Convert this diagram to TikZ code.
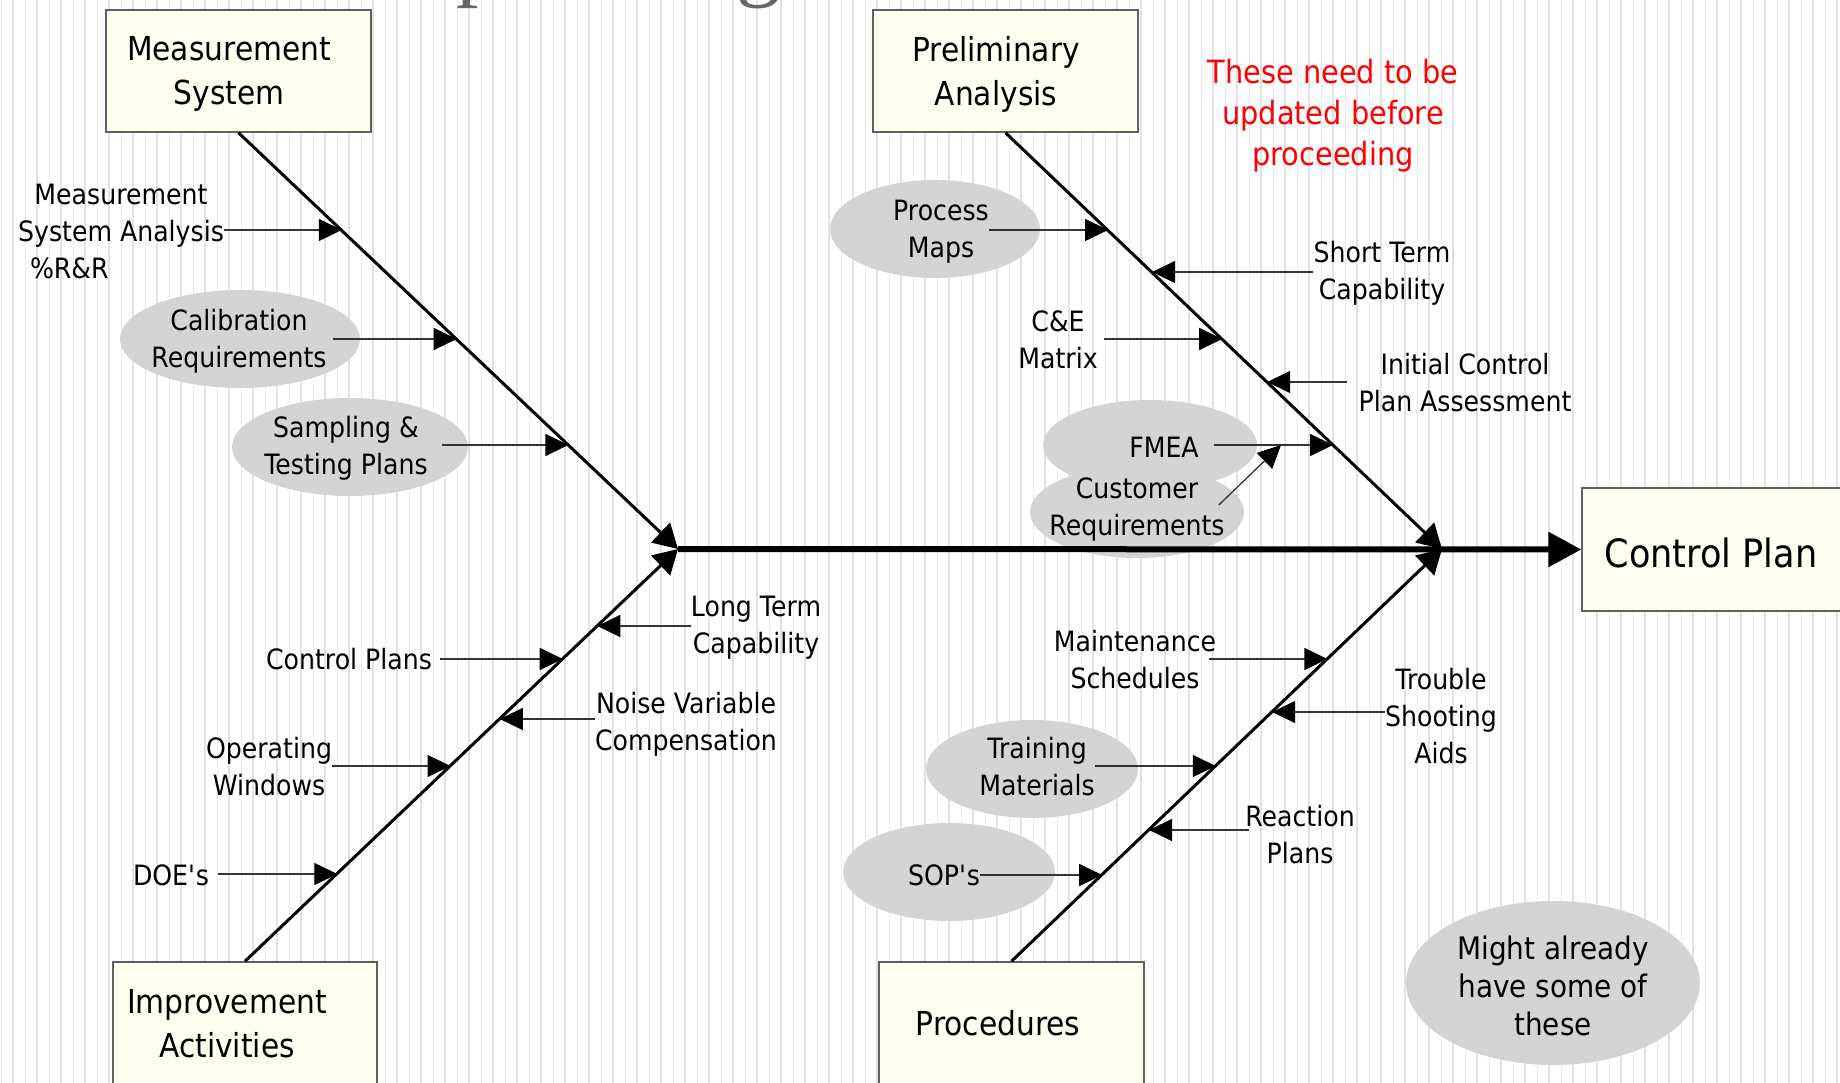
\documentclass[tikz,border=0pt]{standalone}
\usepackage{fontspec}
\setmainfont{DejaVu Sans}[FakeStretch=0.9]
\newfontfamily\titlefont{Liberation Serif}
\usetikzlibrary{arrows.meta,shapes.geometric,calc}
\definecolor{boxfill}{HTML}{FFFFF0}
\definecolor{boxline}{HTML}{606060}
\definecolor{ovalfill}{HTML}{D4D4D4}
\definecolor{stripeA}{HTML}{E2E2E2}
\definecolor{stripeB}{HTML}{ECECEC}
\definecolor{titlegray}{HTML}{666666}
\definecolor{connline}{HTML}{333333}
\begin{document}
\begin{tikzpicture}[x=1pt,y=-1pt,
  box/.style={draw=boxline, line width=1.5pt, fill=boxfill, rectangle, inner sep=0pt},
  boxtext/.style={font=\fontsize{33}{44}\selectfont, align=center, inner sep=0pt},
  lbl/.style={font=\fontsize{28}{37}\selectfont, align=center, inner sep=0pt},
  oval/.style={ellipse, fill=ovalfill, draw=none, inner sep=0pt},
  bone/.style={line width=3pt, -{Triangle[length=24pt,width=27pt]}},
  spine/.style={line width=6pt, -{Triangle[length=33pt,width=34pt]}},
  conn/.style={line width=1.3pt, draw=connline, -{Triangle[length=23pt,width=22pt,color=black]}},
  titletext/.style={font=\titlefont\fontsize{90}{90}\selectfont, text=titlegray, anchor=base west, inner sep=0pt}
]
\useasboundingbox (0,0) rectangle (1840,1083);
\begin{scope}
\clip (0,0) rectangle (1840,1083);
\fill[white] (0,0) rectangle (1840,1083);
\foreach \i in {0,...,76} {
  \draw[stripeB, line width=1pt] (\i*24+1,0) -- (\i*24+1,1083);
  \draw[stripeA, line width=2pt] (\i*24+13,0) -- (\i*24+13,1083);
}
% title fragments
\node[titletext] (tp) at (456,-10) {p};
\node[titletext] (tg) at (736,-10) {g};

% junctions and bone points
\coordinate (J1) at (678,549);
\coordinate (J2) at (1442,549);
\coordinate (m1) at (341.8,230);
\coordinate (m2) at (456.7,339);
\coordinate (m3) at (568.4,445);
\coordinate (l1) at (597.3,626);
\coordinate (l2) at (562.7,659);
\coordinate (l3) at (499.8,719);
\coordinate (l4) at (450.5,766);
\coordinate (l5) at (337.3,874);
\coordinate (p1) at (1108.1,230);
\coordinate (p2) at (1152.1,272);
\coordinate (p3) at (1222.2,339);
\coordinate (p4) at (1267.2,382);
\coordinate (p5) at (1333.1,445);
\coordinate (fm) at (1281,445);
\coordinate (r1) at (1327.4,659);
\coordinate (r2) at (1272.1,712);
\coordinate (r3) at (1215.8,766);
\coordinate (r4) at (1149.1,830);
\coordinate (r5) at (1102.2,875);

% ovals
\node[oval, minimum width=240pt, minimum height=98pt] (calibE) at (240,339) {};
\node[oval, minimum width=236pt, minimum height=98pt] (sampE) at (350,447) {};
\node[oval, minimum width=210pt, minimum height=98pt] (pmE) at (935,229) {};
\node[oval, minimum width=214pt, minimum height=90pt] (fmeaE) at (1150,445) {};
\node[oval, minimum width=214pt, minimum height=92pt] (custE) at (1137,512) {};
\node[oval, minimum width=212pt, minimum height=98pt] (trE) at (1032,769) {};
\node[oval, minimum width=212pt, minimum height=98pt] (sopE) at (949,872) {};
\node[oval, minimum width=294pt, minimum height=164pt] (mightE) at (1553,983) {};

% boxes
\node[box, minimum width=265pt, minimum height=122pt] (ms) at (238.5,71) {};
\node[box, minimum width=265pt, minimum height=122pt] (pa) at (1005.5,71) {};
\node[box, minimum width=264pt, minimum height=138pt] (ia) at (245,1031) {};
\node[box, minimum width=265pt, minimum height=138pt] (pr) at (1011.5,1031) {};
\node[box, minimum width=288pt, minimum height=123pt] (cp) at (1726,549.5) {};

% bones and spine
\draw[bone] (ms.south) -- (J1);
\draw[bone] (ia.north) -- (J1);
\draw[bone] (pa.south) -- (J2);
\draw[bone] (pr.north) -- (J2);
\draw[spine] (J1) -- (cp.west);

% texts
\node[boxtext] (mst) at (229,74) {Measurement\\System};
\node[boxtext] (pat) at (996,74) {Preliminary\\Analysis};
\node[boxtext] (iat) at (227,1024) {Improvement\\Activities};
\node[boxtext] (prt) at (998,1023) {Procedures};
\node[inner sep=0pt, font=\fontsize{39}{47}\selectfont] (cpt) at (1711,553) {Control Plan};
\node[inner sep=0pt, align=center, text=red, font=\fontsize{32}{41}\selectfont] (note) at (1333,116) {These need to be\\updated before\\proceeding};
\node[inner sep=0pt, align=center, font=\fontsize{31}{38}\selectfont] (might) at (1553,986) {Might already\\have some of\\these};

\node[lbl] (msa) at (121,231) {Measurement\\System Analysis\\\makebox[182pt][l]{\%R\&R}};
\node[lbl] (calib) at (239,341) {Calibration\\Requirements};
\node[lbl] (samp) at (346,448) {Sampling \&\\Testing Plans};
\node[lbl] (lt) at (756,628) {Long Term\\Capability};
\node[lbl] (cpl) at (349,659) {Control Plans};
\node[lbl] (nv) at (686,724) {Noise Variable\\Compensation};
\node[lbl] (op) at (269,767) {Operating\\Windows};
\node[lbl] (doe) at (171,875) {DOE\textquotesingle s};
\node[lbl] (pm) at (941,232) {Process\\Maps};
\node[lbl] (st) at (1382,273) {Short Term\\Capability};
\node[lbl] (ce) at (1058,340) {C\&E\\Matrix};
\node[lbl] (ic) at (1465,383) {Initial Control\\Plan Assessment};
\node[lbl] (fmea) at (1164,447) {FMEA};
\node[lbl] (cust) at (1137,510) {Customer\\Requirements};
\node[lbl] (mt) at (1135,660) {Maintenance\\Schedules};
\node[lbl] (ts) at (1441,716) {Trouble\\Shooting\\Aids};
\node[lbl] (tr) at (1037,767) {Training\\Materials};
\node[lbl] (rp) at (1300,835) {Reaction\\Plans};
\node[lbl] (sop) at (944,875) {SOP\textquotesingle s};

% connectors
\draw[conn] (msa.east |- m1) -- (m1);
\draw[conn] ($(calib.east |- m2)+(6,0)$) -- (m2);
\draw[conn] ($(samp.east |- m3)+(14,0)$) -- (m3);
\draw[conn] (lt.west |- l1) -- (l1);
\draw[conn] ($(cpl.east |- l2)+(8,0)$) -- (l2);
\draw[conn] (nv.west |- l3) -- (l3);
\draw[conn] (op.east |- l4) -- (l4);
\draw[conn] ($(doe.east |- l5)+(9,0)$) -- (l5);
\draw[conn] (pm.east |- p1) -- (p1);
\draw[conn] (st.west |- p2) -- (p2);
\draw[conn] ($(ce.east |- p3)+(6,0)$) -- (p3);
\draw[conn] ($(ic.west |- p4)+(-11,0)$) -- (p4);
\draw[conn] ($(fmea.east |- p5)+(15,0)$) -- (p5);
\draw[conn] ($(cust.east)+(-6,-5)$) -- (fm);
\draw[conn] ($(mt.east |- r1)+(-7,0)$) -- (r1);
\draw[conn] (ts.west |- r2) -- (r2);
\draw[conn] (tr.east |- r3) -- (r3);
\draw[conn] ($(rp.west |- r4)+(4,0)$) -- (r4);
\draw[conn] (sop.east |- r5) -- (r5);
\end{scope}
\end{tikzpicture}
\end{document}
